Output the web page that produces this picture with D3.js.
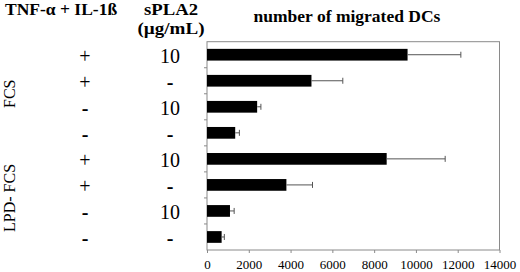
<!DOCTYPE html>
<html><head><meta charset="utf-8">
<script src="https://cdn.jsdelivr.net/npm/d3@7/dist/d3.min.js"></script>
<style>body{margin:0;background:#fff}svg{display:block}text{font-family:"Liberation Serif","Times New Roman",serif}</style>
</head><body><svg id="c" width="520" height="272"></svg>
<script>
const rows = ["r1","r2","r3","r4","r5","r6","r7","r8"];
const tnf = ["+","+","-","-","+","+","-","-"];
const spla = ["10","-","10","-","10","-","10","-"];
const values = [9600, 5000, 2400, 1350, 8600, 3800, 1100, 700];
const errors = [2550, 1500, 180, 200, 2800, 1250, 200, 130];
const xTicks = [0,2000,4000,6000,8000,10000,12000,14000];
const groups = [{name:"FCS", from:0, to:3}, {name:"LPD- FCS", from:4, to:7}];

const svg = d3.select("#c");
const L=207, R=499.5, T=41.7, B=250;
const x = d3.scaleLinear().domain([0,14000]).range([L,R]);
const y = d3.scaleBand().domain(rows).range([T,B]).paddingInner(0.55).paddingOuter(0.275);
const yb = d3.scaleBand().domain(rows).range([T,B]);

// frame
svg.append("rect").attr("x",L).attr("y",T).attr("width",R-L).attr("height",B-T)
  .attr("fill","none").attr("stroke","#8a8a8a").attr("stroke-width",1);

// x axis
const xa = svg.append("g").attr("transform",`translate(0,${B})`)
  .call(d3.axisBottom(x).tickValues(xTicks).tickSize(3).tickPadding(7).tickFormat(d3.format("d")));
xa.select(".domain").remove();
xa.selectAll("line").attr("stroke","#8a8a8a");
xa.selectAll("text").attr("font-size",13).attr("fill","#000");

// y ticks at band boundaries
svg.append("g").selectAll("line").data(rows.slice(1)).join("line")
  .attr("x1",L-3).attr("x2",L).attr("y1",d=>yb(d)).attr("y2",d=>yb(d)).attr("stroke","#8a8a8a");

// bars
svg.append("g").selectAll("rect").data(rows).join("rect")
  .attr("x",x(0)).attr("y",d=>y(d)).attr("height",y.bandwidth())
  .attr("width",(d,i)=>x(values[i])-x(0)).attr("fill","#000");

// error bars
const eg = svg.append("g").attr("stroke","#555").attr("stroke-width",1);
rows.forEach((d,i)=>{
  const cy = y(d)+y.bandwidth()/2;
  eg.append("line").attr("x1",x(values[i])).attr("x2",x(values[i]+errors[i])).attr("y1",cy).attr("y2",cy);
  eg.append("line").attr("x1",x(values[i]+errors[i])).attr("x2",x(values[i]+errors[i])).attr("y1",cy-3).attr("y2",cy+3);
});

// row labels
rows.forEach((d,i)=>{
  const cy = yb(d)+yb.bandwidth()/2;
  svg.append("text").attr("x",85).attr("y",cy+8.5).attr("text-anchor","middle")
    .attr("font-size",20).attr("font-weight",tnf[i]==="-"?"bold":"normal").text(tnf[i]);
  svg.append("text").attr("x",170).attr("y",cy+8.5).attr("text-anchor","middle")
    .attr("font-size",20).attr("font-weight",spla[i]==="-"?"bold":"normal").text(spla[i]);
});

// group labels
groups.forEach(g=>{
  const cy = (yb(rows[g.from]) + yb(rows[g.to]) + yb.bandwidth())/2;
  svg.append("text").attr("transform",`translate(15,${cy}) rotate(-90)`)
    .attr("text-anchor","middle").attr("font-size",16).text(g.name);
});

// headers
svg.append("text").attr("x",5).attr("y",15).attr("font-size",17.5).attr("font-weight","bold").text("TNF-α + IL-1ß");
svg.append("text").attr("x",171).attr("y",15).attr("text-anchor","middle").attr("font-size",17).attr("font-weight","bold")
  .attr("textLength",54).attr("lengthAdjust","spacingAndGlyphs").text("sPLA2");
svg.append("text").attr("x",171).attr("y",34).attr("text-anchor","middle").attr("font-size",17).attr("font-weight","bold")
  .attr("textLength",67).attr("lengthAdjust","spacingAndGlyphs").text("(µg/mL)");
svg.append("text").attr("x",347).attr("y",22).attr("text-anchor","middle").attr("font-size",17.5).attr("font-weight","bold").text("number of migrated DCs");
</script></body></html>
